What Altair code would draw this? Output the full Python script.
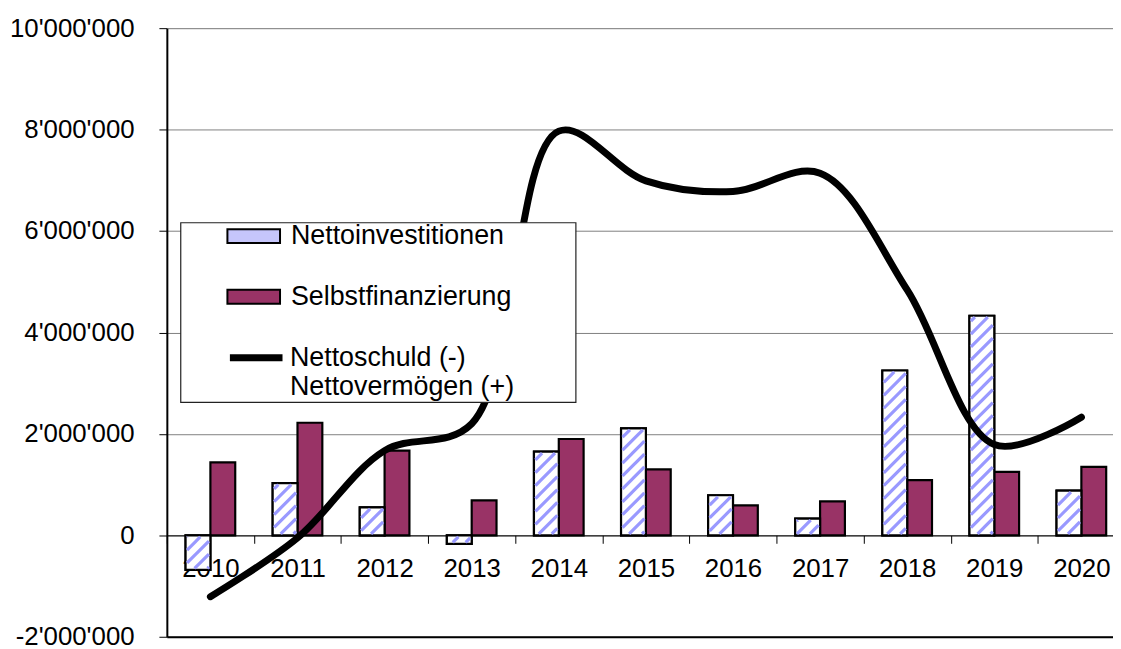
import altair as alt
import pandas as pd

# ---------------- data ----------------
years = ["2010", "2011", "2012", "2013", "2014", "2015", "2016", "2017", "2018", "2019", "2020"]
netto_inv = [-680000, 1030000, 550000, -170000, 1650000, 2110000, 790000, 330000, 3250000, 4330000, 880000]
selbst = [1440000, 2220000, 1670000, 690000, 1900000, 1300000, 590000, 670000, 1090000, 1250000, 1350000]
netto_schuld = [-1210000, -50000, 1670000, 2200000, 7970000, 6990000, 6780000, 7140000, 4840000, 1790000, 2330000]
y_ticks = [-2000000, 0, 2000000, 4000000, 6000000, 8000000, 10000000]

SER_A = "Nettoinvestitionen"
SER_B = "Selbstfinanzierung"
SER_L = "Nettoschuld (-)"

# ---------------- layout constants ----------------
FONT = "Liberation Sans"
W = 953          # visible plot width
X_RANGE = 965    # category range (last band runs past the window edge as in the reference)
H = 613
Y_MIN, Y_MAX = -2000000, 10000000
N = len(years)
STEP = X_RANGE / N
SUB_PAD = 0.754
SUB = STEP / (2 + 2 * SUB_PAD)

bars = pd.DataFrame({
    "year": years * 2,
    "series": [SER_A] * N + [SER_B] * N,
    "value": netto_inv + selbst,
})
line_df = pd.DataFrame({"year": years, "value": netto_schuld, "series": [SER_L] * N})


def ypx(v):
    return (Y_MAX - v) / (Y_MAX - Y_MIN) * H


def yval(p):
    return Y_MAX - p * (Y_MAX - Y_MIN) / H


# hatch stripes for the "Nettoinvestitionen" bars, derived from the bar values
SLOPE, PERIOD, INSET = 1.0, 13.0, 1.5
rows = []
for k, v in enumerate(netto_inv):
    cx = (k + 0.5) * STEP
    x0, x1 = cx - SUB + INSET, cx - INSET
    ya, yb = sorted([ypx(0), ypx(v)])
    ya += INSET
    yb -= INSET
    if yb <= ya:
        continue
    cmin, cmax = ya + SLOPE * x0, yb + SLOPE * x1
    j = int(cmin // PERIOD)
    while j * PERIOD <= cmax:
        C = j * PERIOD
        j += 1
        xa = max(x0, (C - yb) / SLOPE)
        xb = min(x1, (C - ya) / SLOPE)
        if xb - xa < 0.3:
            continue
        rows.append({
            "xu": xa / STEP, "xu2": xb / STEP,
            "value": yval(C - SLOPE * xa), "value2": yval(C - SLOPE * xb),
        })
stripes = pd.DataFrame(rows)

y_scale = alt.Scale(domain=[Y_MIN, Y_MAX], nice=False, zero=False)
x_scale = alt.Scale(domain=years, range=[0, X_RANGE], paddingInner=0, paddingOuter=0)
xo_scale = alt.Scale(domain=[SER_A, SER_B], paddingOuter=SUB_PAD, paddingInner=0)

y_axis = alt.Axis(
    values=y_ticks,
    labelExpr="(datum.value < 0 ? '-' : '') + join(split(format(abs(datum.value), ','), ','), \"'\")",
    grid=True, gridColor="#808080", gridWidth=1,
    domainColor="black", domainWidth=2,
    tickColor="black", tickSize=8, tickWidth=1,
    labelFont=FONT, labelFontSize=26, labelColor="black", labelPadding=25,
    title=None,
)
x_axis = alt.Axis(
    orient="bottom", offset=-(H - ypx(0)), tickBand="extent",
    tickSize=8, tickColor="black", tickWidth=1,
    domainColor="black", domainWidth=1,
    labelFont=FONT, labelFontSize=26, labelColor="black", labelAngle=0, labelPadding=12,
    grid=False, title=None,
)

bar_symbol = "M-1,-0.264H1V0.264H-1Z"

base_bars = alt.Chart(bars).mark_bar(stroke="black", strokeWidth=2.2).encode(
    x=alt.X("year:N", scale=x_scale, axis=x_axis),
    xOffset=alt.XOffset("series:N", scale=xo_scale),
    y=alt.Y("value:Q", scale=y_scale, axis=y_axis),
    fill=alt.Fill(
        "series:N",
        scale=alt.Scale(domain=[SER_A, SER_B], range=["#c6c6fb", "#993366"]),
        legend=alt.Legend(
            orient="none", legendX=60, legendY=182, title=None, padding=0,
            symbolType=bar_symbol, symbolSize=2809,
            symbolStrokeColor="black", symbolStrokeWidth=2,
            labelFont=FONT, labelFontSize=27, labelColor="black",
            labelOffset=10, rowPadding=20, labelLimit=400,
        ),
    ),
)

white_bars = alt.Chart(bars).transform_filter(
    alt.datum.series == SER_A
).mark_bar(fill="white", stroke="black", strokeWidth=2.2).encode(
    x=alt.X("year:N", scale=x_scale, axis=None),
    xOffset=alt.XOffset("series:N", scale=xo_scale),
    y=alt.Y("value:Q", scale=y_scale, title=None),
)

stripe_layer = alt.Chart(stripes).mark_rule(color="#9999ff", strokeWidth=3.2).encode(
    x=alt.X("xu:Q", scale=alt.Scale(domain=[0, N], range=[0, X_RANGE], nice=False, zero=False),
            axis=alt.Axis(orient="bottom", labels=False, ticks=False, grid=False,
                          domainColor="black", domainWidth=2, title=None)),
    x2="xu2:Q",
    y=alt.Y("value:Q", scale=y_scale, title=None),
    y2="value2:Q",
)

line_layer = alt.Chart(line_df).mark_line(
    strokeWidth=7, interpolate="catmull-rom", strokeCap="round", strokeJoin="round"
).encode(
    x=alt.X("year:N", scale=x_scale, axis=None),
    y=alt.Y("value:Q", scale=y_scale, title=None),
    stroke=alt.Stroke(
        "series:N",
        scale=alt.Scale(domain=[SER_L], range=["black"]),
        legend=alt.Legend(
            orient="none", legendX=60, legendY=302, title=None, padding=0,
            symbolType="stroke", symbolSize=2809, symbolStrokeWidth=7,
            labelFont=FONT, labelFontSize=27, labelColor="black", labelOffset=4,
            labelLimit=400,
            labelExpr="['Nettoschuld (-)', 'Nettovermögen (+)']",
        ),
    ),
)

legend_box = alt.Chart(pd.DataFrame({"k": [0]})).mark_rect(
    fill="white", stroke="#222222", strokeWidth=1.2
).encode(
    x=alt.value(14), x2=alt.value(412), y=alt.value(196), y2=alt.value(377)
)

chart = alt.layer(
    base_bars, white_bars, stripe_layer, line_layer, legend_box
).resolve_scale(x="independent").properties(
    width=W, height=H,
    autosize=alt.AutoSizeParams(type="none"),
    padding={"left": 160, "top": 18, "right": 0, "bottom": 10},
).configure_view(stroke=None).configure(font=FONT)

chart.save("out.html", embed_options={"renderer": "svg", "actions": False})
